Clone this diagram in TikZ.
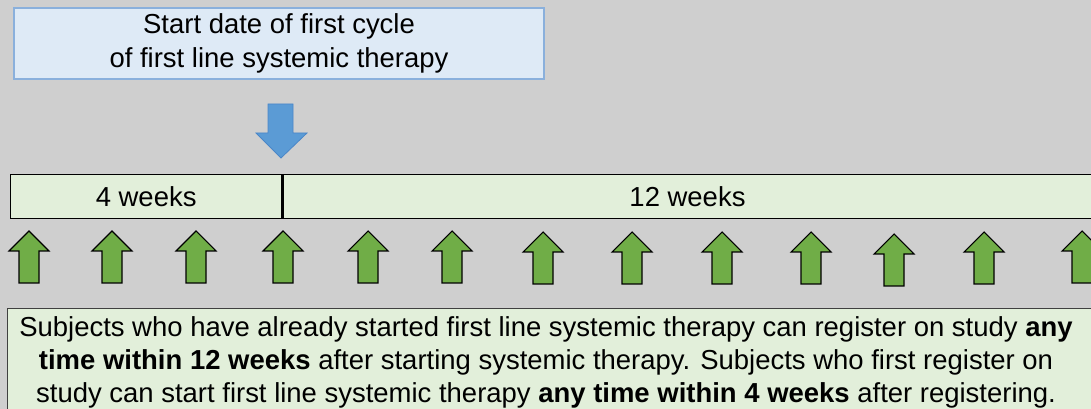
\documentclass[tikz,border=0pt]{standalone}
\usepackage{fontspec}
\setmainfont{Liberation Sans}
\usepackage{xcolor}
\usetikzlibrary{positioning}

\definecolor{bggray}{HTML}{CFCFCF}
\definecolor{startfill}{HTML}{DEEAF6}
\definecolor{startline}{HTML}{8AB0DC}
\definecolor{weekfill}{HTML}{E2EFDA}
\definecolor{arrowgreen}{HTML}{70AD47}
\definecolor{arrowblue}{HTML}{5B9BD5}
\definecolor{arrowblueline}{HTML}{4A86C8}

\begin{document}
\begin{tikzpicture}[
        x=0.75pt, y=-0.75pt,
        every node/.style={font=\fontsize{20.6}{21}\selectfont, inner sep=0pt},
        startbox/.style={rectangle, draw=startline, line width=1.1pt, fill=startfill,
            minimum width=397.5pt, minimum height=53.25pt, align=center,
            font=\fontsize{20.6}{25}\selectfont},
        timebox/.style={rectangle, draw=black, line width=1pt, fill=weekfill,
            minimum height=33pt},
        notebox/.style={rectangle, draw=black!75, line width=1pt, fill=weekfill,
            minimum width=827.25pt, minimum height=91.5pt, anchor=north west},
        uparrow/.style={draw=black, line width=0.8pt, fill=arrowgreen, line join=miter},
        downarrow/.style={draw=arrowblueline, line width=0.6pt, fill=arrowblue}
    ]
    % Background and page size
    \useasboundingbox[fill=bggray] (0,0) rectangle (1091,409);

    % Start of therapy
    \node[startbox] (start) at (279,43.5) {Start date of first cycle\\of first line systemic therapy};
    \draw[downarrow] (268,104) -- (293,104) -- (293,133) -- (307,133) -- (281,158)
        -- (256,133) -- (268,133) -- cycle;

    % Timeline
    \node[timebox, minimum width=203.25pt, anchor=north west] (week4) at (10,174) {4 weeks};
    \node[timebox, minimum width=606.75pt, right=0pt of week4] (week12) {12 weeks};

    % Registration points
    \foreach \cx/\dy in {29/0, 112/0, 196/0, 283/0, 368/0, 452/0, 543/1, 632/1,
                         722/1, 811/1, 894/3, 984/1, 1082/0}
        \draw[uparrow] ({\cx-10},{283+\dy}) -- ({\cx+10},{283+\dy}) -- ({\cx+10},{251+\dy})
            -- ({\cx+20},{251+\dy}) -- (\cx,{231+\dy}) -- ({\cx-20},{251+\dy})
            -- ({\cx-10},{251+\dy}) -- cycle;

    % Explanation
    \node[notebox] (note) at (7,308) {};
    \node[anchor=north, align=center, font=\fontsize{20.6}{25}\selectfont] (notetext) at (546,316)
        {Subjects who have already started first line systemic therapy can register on study \textbf{any}\\
         \textbf{time within 12 weeks} after starting systemic therapy. Subjects who first register on\\
         study can start first line systemic therapy \textbf{any time within 4 weeks} after registering.};

\end{tikzpicture}
\end{document}
